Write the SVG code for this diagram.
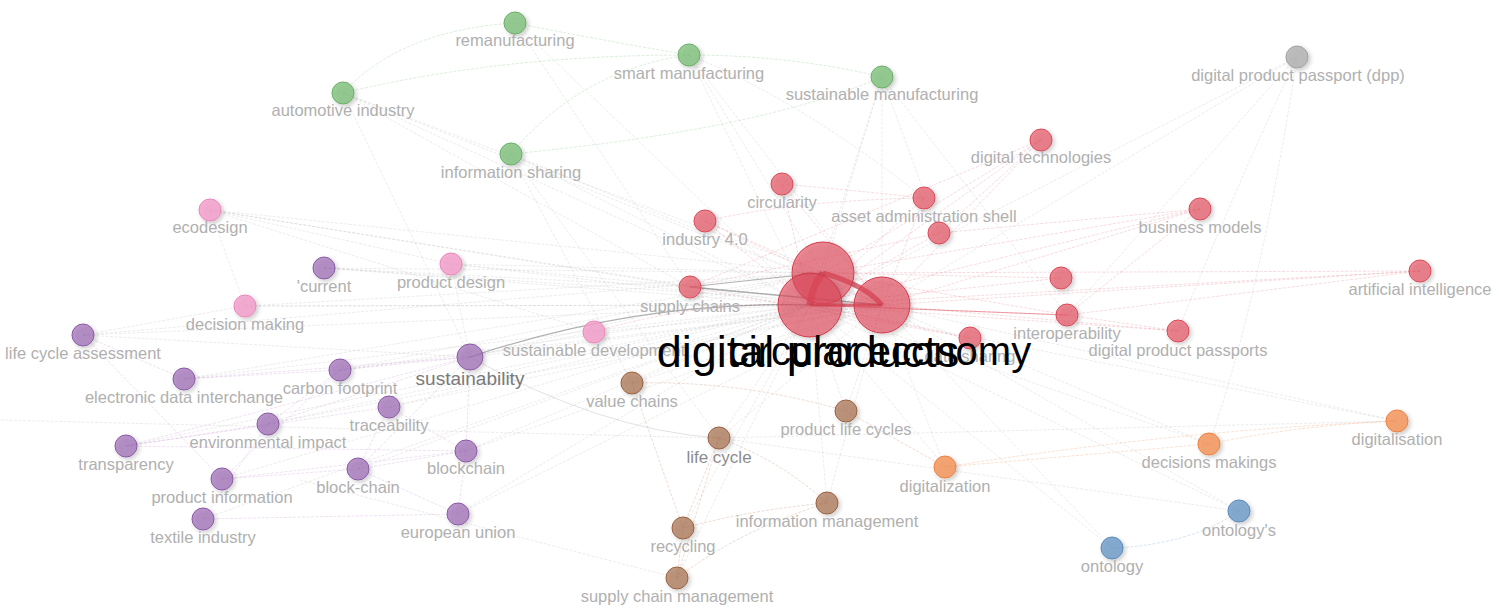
<svg xmlns="http://www.w3.org/2000/svg" width="1499" height="612" viewBox="0 0 1499 612">
<defs>
<filter id="sh" x="-50%" y="-50%" width="200%" height="200%"><feDropShadow dx="2" dy="2" stdDeviation="2" flood-color="#000" flood-opacity="0.25"/></filter>
<style>
text{font-family:"Liberation Sans",Arial,sans-serif;font-size:16.5px;fill:#b0b0b0;text-anchor:middle}
.big{font-size:45px;fill:#000}
.big2{font-size:40px;fill:#000}
.mid{font-size:19px;fill:#7a7a7a}
.mid2{font-size:17px;fill:#8c8c8c}
circle{filter:url(#sh)}
.red{fill:#e45a6a;fill-opacity:.72;stroke:#d84a5a;stroke-width:1}
.grn{fill:#80c27d;fill-opacity:.8;stroke:#6aae68;stroke-width:1}
.pnk{fill:#f49ccb;fill-opacity:.8;stroke:#ea88bb;stroke-width:1}
.pur{fill:#9c6bb5;fill-opacity:.7;stroke:#8b5aa5;stroke-width:1}
.brn{fill:#a8704f;fill-opacity:.7;stroke:#9a6040;stroke-width:1}
.org{fill:#f59255;fill-opacity:.8;stroke:#ec8040;stroke-width:1}
.blu{fill:#6d9ac8;fill-opacity:.8;stroke:#5a88b8;stroke-width:1}
.gry{fill:#b0b0b0;fill-opacity:.8;stroke:#a0a0a0;stroke-width:1}
.bigc{fill:#e04858;fill-opacity:.62;stroke:#d03848;stroke-width:1}
#edges path{fill:none;stroke-width:.7}
.eg{stroke:#9a9a9a;stroke-opacity:.28;stroke-dasharray:3 1.5}
.er{stroke:#e46b7b;stroke-opacity:.35;stroke-dasharray:3 1.5}
.egr{stroke:#7fc27c;stroke-opacity:.4;stroke-dasharray:3 1.5}
.ep{stroke:#b070c0;stroke-opacity:.3;stroke-dasharray:3 1.5}
.eb{stroke:#c08060;stroke-opacity:.4;stroke-dasharray:3 1.5}
.eo{stroke:#f59255;stroke-opacity:.4;stroke-dasharray:3 1.5}
.el{stroke:#6d9ac8;stroke-opacity:.4;stroke-dasharray:3 1.5}
.ek{stroke:#555;stroke-opacity:.45}
</style>
</defs>
<rect width="1499" height="612" fill="#fff"/>
<g id="edges">
<path class="egr" d="M515 23 Q600 40 689 55"/>
<path class="egr" d="M515 23 Q400 30 343 93"/>
<path class="egr" d="M689 55 Q790 55 882 77"/>
<path class="egr" d="M343 93 Q500 55 689 55"/>
<path class="egr" d="M511 154 Q580 70 689 55"/>
<path class="egr" d="M511 154 Q760 130 882 77"/>
<path class="eg" d="M515 23 L810 305"/>
<path class="eg" d="M515 23 L690 287"/>
<path class="eg" d="M689 55 L810 305"/>
<path class="eg" d="M689 55 L882 305"/>
<path class="eg" d="M689 55 L823 273"/>
<path class="eg" d="M689 55 Q800 100 924 198"/>
<path class="eg" d="M882 77 L810 305"/>
<path class="eg" d="M882 77 L882 305"/>
<path class="eg" d="M882 77 L823 273"/>
<path class="eg" d="M882 77 L1067 315"/>
<path class="eg" d="M882 77 L939 233"/>
<path class="eg" d="M343 93 L810 305"/>
<path class="eg" d="M343 93 L690 287"/>
<path class="eg" d="M343 93 L470 357"/>
<path class="eg" d="M343 93 L823 273"/>
<path class="eg" d="M343 93 L882 305"/>
<path class="eg" d="M511 154 L810 305"/>
<path class="eg" d="M511 154 L882 305"/>
<path class="eg" d="M511 154 L719 438"/>
<path class="eg" d="M511 154 L632 383"/>
<path class="eg" d="M1297 57 L882 305"/>
<path class="eg" d="M1297 57 L1067 315"/>
<path class="eg" d="M1297 57 Q1230 200 1178 331"/>
<path class="eg" d="M1297 57 Q1260 300 1209 444"/>
<path class="eg" d="M1297 57 L810 305"/>
<path class="er" d="M1041 140 L810 305"/>
<path class="er" d="M1041 140 L882 305"/>
<path class="er" d="M1041 140 L823 273"/>
<path class="er" d="M1041 140 L939 233"/>
<path class="er" d="M1041 140 L690 287"/>
<path class="er" d="M782 184 L810 305"/>
<path class="er" d="M782 184 L882 305"/>
<path class="er" d="M782 184 Q850 190 924 198"/>
<path class="er" d="M924 198 L810 305"/>
<path class="er" d="M924 198 L882 305"/>
<path class="er" d="M924 198 Q800 200 705 221"/>
<path class="er" d="M705 221 L810 305"/>
<path class="er" d="M705 221 L882 305"/>
<path class="er" d="M705 221 L823 273"/>
<path class="er" d="M1200 209 L810 305"/>
<path class="er" d="M1200 209 L882 305"/>
<path class="er" d="M1200 209 L823 273"/>
<path class="er" d="M1200 209 L1067 315"/>
<path class="er" d="M1200 209 L939 233"/>
<path class="er" d="M939 233 L810 305"/>
<path class="er" d="M939 233 L690 287"/>
<path class="er" d="M1061 278 L810 305"/>
<path class="er" d="M1061 278 L823 273"/>
<path class="er" d="M1067 315 L810 305"/>
<path class="er" d="M1067 315 L823 273"/>
<path class="er" d="M1178 331 L810 305"/>
<path class="er" d="M1178 331 L882 305"/>
<path class="er" d="M1178 331 L1067 315"/>
<path class="er" d="M1420 271 L810 305"/>
<path class="er" d="M1420 271 L882 305"/>
<path class="er" d="M1420 271 L823 273"/>
<path class="er" d="M1420 271 L1067 315"/>
<path class="er" d="M970 338 L810 305"/>
<path class="er" d="M970 338 L690 287"/>
<path class="er" d="M594 332 Q700 300 810 305"/>
<path class="eg" d="M210 210 L810 305"/>
<path class="eg" d="M210 210 L451 264"/>
<path class="eg" d="M210 210 L245 306"/>
<path class="eg" d="M210 210 L594 332"/>
<path class="eg" d="M210 210 L690 287"/>
<path class="eg" d="M210 210 L823 273"/>
<path class="eg" d="M451 264 L810 305"/>
<path class="eg" d="M451 264 L882 305"/>
<path class="eg" d="M451 264 L470 357"/>
<path class="eg" d="M451 264 L823 273"/>
<path class="eg" d="M245 306 L810 305"/>
<path class="eg" d="M245 306 L823 273"/>
<path class="eg" d="M245 306 L882 305"/>
<path class="eg" d="M245 306 L83 335"/>
<path class="eg" d="M594 332 L882 305"/>
<path class="eg" d="M594 332 L470 357"/>
<path class="eg" d="M324 268 L810 305"/>
<path class="eg" d="M324 268 L823 273"/>
<path class="eg" d="M324 268 L690 287"/>
<path class="eg" d="M324 268 L882 305"/>
<path class="eg" d="M83 335 L810 305"/>
<path class="eg" d="M83 335 L823 273"/>
<path class="eg" d="M83 335 L470 357"/>
<path class="ep" d="M83 335 L184 379"/>
<path class="ep" d="M83 335 L222 479"/>
<path class="ek" d="M470 357 Q640 300 810 305" style="stroke-width:1.2"/>
<path class="eg" d="M470 357 L882 305"/>
<path class="eg" d="M470 357 L823 273"/>
<path class="eg" d="M340 370 L810 305"/>
<path class="eg" d="M340 370 L882 305"/>
<path class="eg" d="M340 370 L823 273"/>
<path class="ep" d="M340 370 L470 357"/>
<path class="ep" d="M340 370 L268 424"/>
<path class="eg" d="M184 379 L810 305"/>
<path class="eg" d="M184 379 L823 273"/>
<path class="ep" d="M184 379 L470 357"/>
<path class="ep" d="M184 379 L340 370"/>
<path class="eg" d="M389 407 L810 305"/>
<path class="eg" d="M389 407 L882 305"/>
<path class="ep" d="M389 407 L466 451"/>
<path class="ep" d="M389 407 L358 469"/>
<path class="eg" d="M268 424 L810 305"/>
<path class="eg" d="M268 424 L882 305"/>
<path class="ep" d="M268 424 L470 357"/>
<path class="ep" d="M268 424 L126 446"/>
<path class="ep" d="M126 446 L470 357"/>
<path class="ep" d="M126 446 L389 407"/>
<path class="ep" d="M126 446 L466 451"/>
<path class="eg" d="M126 446 L810 305"/>
<path class="eg" d="M466 451 L810 305"/>
<path class="eg" d="M466 451 L882 305"/>
<path class="ep" d="M466 451 L358 469"/>
<path class="ep" d="M466 451 L470 357"/>
<path class="ep" d="M358 469 L222 479"/>
<path class="ep" d="M358 469 L470 357"/>
<path class="eg" d="M358 469 L810 305"/>
<path class="ep" d="M222 479 L466 451"/>
<path class="ep" d="M222 479 L340 370"/>
<path class="eg" d="M222 479 L810 305"/>
<path class="ep" d="M203 519 L458 514"/>
<path class="ep" d="M203 519 L268 424"/>
<path class="eg" d="M203 519 L810 305"/>
<path class="ep" d="M458 514 L466 451"/>
<path class="ep" d="M458 514 L358 469"/>
<path class="eg" d="M458 514 L810 305"/>
<path class="eg" d="M458 514 L882 305"/>
<path class="eg" d="M632 383 L810 305"/>
<path class="eg" d="M632 383 L882 305"/>
<path class="eb" d="M632 383 L683 528"/>
<path class="eb" d="M632 383 Q740 380 846 411"/>
<path class="eg" d="M846 411 L810 305"/>
<path class="eg" d="M846 411 L882 305"/>
<path class="eb" d="M846 411 L945 467"/>
<path class="ek" d="M470 357 Q600 430 719 438" style="stroke-opacity:.25"/>
<path class="eg" d="M719 438 L810 305"/>
<path class="eg" d="M719 438 L882 305"/>
<path class="eg" d="M719 438 L0 420"/>
<path class="eb" d="M719 438 L683 528"/>
<path class="eb" d="M719 438 L677 578"/>
<path class="eb" d="M719 438 Q780 460 827 503"/>
<path class="eg" d="M827 503 L810 305"/>
<path class="eg" d="M827 503 L882 305"/>
<path class="eb" d="M827 503 Q750 510 683 528"/>
<path class="eb" d="M827 503 Q740 530 677 578"/>
<path class="eb" d="M683 528 L677 578"/>
<path class="eg" d="M683 528 L810 305"/>
<path class="eg" d="M677 578 L810 305"/>
<path class="eg" d="M677 578 L300 480"/>
<path class="eo" d="M945 467 Q1180 430 1397 421"/>
<path class="eo" d="M1209 444 Q1300 425 1397 421"/>
<path class="eo" d="M1209 444 L945 467"/>
<path class="eg" d="M945 467 L882 305"/>
<path class="eg" d="M945 467 L810 305"/>
<path class="eg" d="M1209 444 L810 305"/>
<path class="eg" d="M1209 444 L882 305"/>
<path class="eg" d="M1397 421 L810 305"/>
<path class="eg" d="M1397 421 L882 305"/>
<path class="eg" d="M1397 421 L719 438"/>
<path class="el" d="M1112 548 Q1190 545 1239 511"/>
<path class="eg" d="M1112 548 L810 305"/>
<path class="eg" d="M1112 548 L882 305"/>
<path class="eg" d="M1239 511 L810 305"/>
<path class="eg" d="M1239 511 L882 305"/>
<path class="eg" d="M1239 511 L719 438"/>
<path class="ek" d="M690 287 Q790 296 882 305" style="stroke-width:1.6"/>
<path class="ek" d="M690 287 Q750 280 823 273" style="stroke-width:1"/>
<path class="ek" d="M810 305 L1067 315" style="stroke:#e04858;stroke-opacity:.5;stroke-width:1"/>
<path d="M810 305 L882 305" style="stroke:#c83040;stroke-opacity:.7;stroke-width:3"/>
<path d="M810 305 Q812 285 823 273" style="stroke:#d03040;stroke-opacity:.7;stroke-width:7"/>
<path d="M823 273 Q865 285 882 305" style="stroke:#d03040;stroke-opacity:.7;stroke-width:5"/>
</g>
<g id="n-remanufacturing"><circle class="grn" cx="515" cy="23" r="11"/><text x="515" y="46">remanufacturing</text></g>
<g id="n-smart-manufacturing"><circle class="grn" cx="689" cy="55" r="11"/><text x="689" y="79">smart manufacturing</text></g>
<g id="n-sustainable-manufacturing"><circle class="grn" cx="882" cy="77" r="11"/><text x="882" y="100">sustainable manufacturing</text></g>
<g id="n-automotive-industry"><circle class="grn" cx="343" cy="93" r="11"/><text x="343" y="116">automotive industry</text></g>
<g id="n-information-sharing"><circle class="grn" cx="511" cy="154" r="11"/><text x="511" y="178">information sharing</text></g>
<g id="n-dpp"><circle class="gry" cx="1297" cy="57" r="11"/><text x="1298" y="81">digital product passport (dpp)</text></g>
<g id="n-digital-technologies"><circle class="red" cx="1041" cy="140" r="11"/><text x="1041" y="163">digital technologies</text></g>
<g id="n-circularity"><circle class="red" cx="782" cy="184" r="11"/><text x="782" y="208">circularity</text></g>
<g id="n-asset-administration-shell"><circle class="red" cx="924" cy="198" r="11"/><text x="924" y="222">asset administration shell</text></g>
<g id="n-industry-4"><circle class="red" cx="705" cy="221" r="11"/><text x="705" y="245">industry 4.0</text></g>
<g id="n-business-models"><circle class="red" cx="1200" cy="209" r="11"/><text x="1200" y="233">business models</text></g>
<g id="n-red-a"><circle class="red" cx="939" cy="233" r="11"/></g>
<g id="n-supply-chains"><circle class="red" cx="690" cy="287" r="11"/><text x="690" y="312">supply chains</text></g>
<g id="n-red-b"><circle class="red" cx="1061" cy="278" r="11"/></g>
<g id="n-interoperability"><circle class="red" cx="1067" cy="315" r="11"/><text x="1067" y="339">interoperability</text></g>
<g id="n-digital-product-passports"><circle class="red" cx="1178" cy="331" r="11"/><text x="1178" y="356">digital product passports</text></g>
<g id="n-artificial-intelligence"><circle class="red" cx="1420" cy="271" r="11"/><text x="1420" y="295">artificial intelligence</text></g>
<g id="n-ecodesign"><circle class="pnk" cx="210" cy="210" r="11"/><text x="210" y="233">ecodesign</text></g>
<g id="n-product-design"><circle class="pnk" cx="451" cy="264" r="11"/><text x="451" y="288">product design</text></g>
<g id="n-decision-making"><circle class="pnk" cx="245" cy="306" r="11"/><text x="245" y="330">decision making</text></g>
<g id="n-current"><circle class="pur" cx="324" cy="268" r="11"/><text x="324" y="292">'current</text></g>
<g id="n-life-cycle-assessment"><circle class="pur" cx="83" cy="335" r="11"/><text x="83" y="359">life cycle assessment</text></g>
<g id="n-carbon-footprint"><circle class="pur" cx="340" cy="370" r="11"/><text x="340" y="394">carbon footprint</text></g>
<g id="n-electronic-data-interchange"><circle class="pur" cx="184" cy="379" r="11"/><text x="184" y="403">electronic data interchange</text></g>
<g id="n-traceability"><circle class="pur" cx="389" cy="407" r="11"/><text x="389" y="431">traceability</text></g>
<g id="n-environmental-impact"><circle class="pur" cx="268" cy="424" r="11"/><text x="268" y="448">environmental impact</text></g>
<g id="n-transparency"><circle class="pur" cx="126" cy="446" r="11"/><text x="126" y="470">transparency</text></g>
<g id="n-blockchain"><circle class="pur" cx="466" cy="451" r="11"/><text x="466" y="474">blockchain</text></g>
<g id="n-block-chain"><circle class="pur" cx="358" cy="469" r="11"/><text x="358" y="493">block-chain</text></g>
<g id="n-product-information"><circle class="pur" cx="222" cy="479" r="11"/><text x="222" y="503">product information</text></g>
<g id="n-textile-industry"><circle class="pur" cx="203" cy="519" r="11"/><text x="203" y="543">textile industry</text></g>
<g id="n-european-union"><circle class="pur" cx="458" cy="514" r="11"/><text x="458" y="538">european union</text></g>
<g id="n-sustainability"><circle class="pur" cx="470" cy="357" r="13"/><text class="mid" x="470" y="385">sustainability</text></g>
<g id="n-value-chains"><circle class="brn" cx="632" cy="383" r="11"/><text x="632" y="407">value chains</text></g>
<g id="n-product-life-cycles"><circle class="brn" cx="846" cy="411" r="11"/><text x="846" y="435">product life cycles</text></g>
<g id="n-life-cycle"><circle class="brn" cx="719" cy="438" r="11"/><text class="mid2" x="719" y="463">life cycle</text></g>
<g id="n-information-management"><circle class="brn" cx="827" cy="503" r="11"/><text x="827" y="527">information management</text></g>
<g id="n-recycling"><circle class="brn" cx="683" cy="528" r="11"/><text x="683" y="552">recycling</text></g>
<g id="n-supply-chain-management"><circle class="brn" cx="677" cy="578" r="11"/><text x="677" y="602">supply chain management</text></g>
<g id="n-digitalization"><circle class="org" cx="945" cy="467" r="11"/><text x="945" y="492">digitalization</text></g>
<g id="n-decisions-makings"><circle class="org" cx="1209" cy="444" r="11"/><text x="1209" y="468">decisions makings</text></g>
<g id="n-digitalisation"><circle class="org" cx="1397" cy="421" r="11"/><text x="1397" y="445">digitalisation</text></g>
<g id="n-ontologys"><circle class="blu" cx="1239" cy="511" r="11"/><text x="1239" y="536">ontology's</text></g>
<g id="n-ontology"><circle class="blu" cx="1112" cy="548" r="11"/><text x="1112" y="572">ontology</text></g>
<g id="n-sustainable-development"><circle class="pnk" cx="594" cy="332" r="11"/><text x="594" y="356">sustainable development</text></g>
<g id="n-data-sharing"><circle class="red" cx="970" cy="338" r="11"/><text x="970" y="362">data sharing</text></g>
<g id="n-hub-top"><circle class="bigc" cx="823" cy="273" r="31"/></g>
<g id="n-digital-products"><circle class="bigc" cx="810" cy="305" r="32"/><text class="big" x="808" y="367">digital products</text></g>
<g id="n-circular-economy"><circle class="bigc" cx="882" cy="305" r="28"/><text class="big2" x="880" y="365">circular economy</text></g>
</svg>
